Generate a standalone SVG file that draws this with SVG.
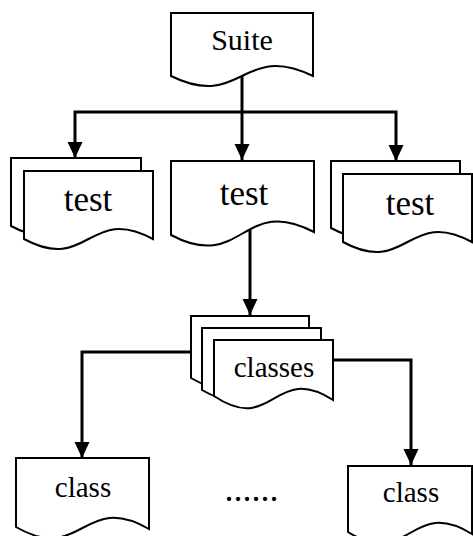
<svg xmlns="http://www.w3.org/2000/svg" width="473" height="536" viewBox="0 0 473 536">
<defs>
<style>
.doc{fill:#fff;stroke:#000;stroke-width:2;stroke-linejoin:miter}
.con{fill:none;stroke:#000;stroke-width:3;stroke-linejoin:miter}
text{font-family:"Liberation Serif","Times New Roman",Times,serif;fill:#000;text-anchor:middle}
</style>
<marker id="ah" markerUnits="userSpaceOnUse" markerWidth="16" markerHeight="16" refX="16" refY="7.5" orient="auto">
<path d="M0,0 L16,7.5 L0,15 z" fill="#000"/>
</marker>
</defs>
<rect width="473" height="536" fill="#fff"/>
<g id="connectors">
<path class="con" d="M242,76 V160" marker-end="url(#ah)"/>
<path class="con" d="M242,112 H75 V158" marker-end="url(#ah)"/>
<path class="con" d="M242,112 H396 V161" marker-end="url(#ah)"/>
<path class="con" d="M250,229 V315" marker-end="url(#ah)"/>
<path class="con" d="M191,352 H82 V458" marker-end="url(#ah)"/>
<path class="con" d="M333,360 H411 V465" marker-end="url(#ah)"/>
</g>
<g id="suite">
<path class="doc" d="M171,13 H313 V76 C242,41 242,111 171,76 Z"/>
<text x="242" y="50" font-size="30">Suite</text>
</g>
<g id="test-left">
<path class="doc" d="M11,158 H141 V226 C76,191 76,261 11,226 Z"/>
<path class="doc" d="M24,171 H153 V239 C88.5,204 88.5,274 24,239 Z"/>
<text x="88" y="211" font-size="35">test</text>
</g>
<g id="test-middle">
<path class="doc" d="M171,161 H314 V232 C242.5,194 242.5,273 171,235 Z"/>
<text x="244" y="205" font-size="35">test</text>
</g>
<g id="test-right">
<path class="doc" d="M331,161 H460 V228 C395.5,193 395.5,263 331,228 Z"/>
<path class="doc" d="M343,174 H472 V242 C407.5,207 407.5,277 343,242 Z"/>
<text x="410" y="215" font-size="35">test</text>
</g>
<g id="classes">
<path class="doc" d="M191,316 H309 V378 C250,343 250,413 191,378 Z"/>
<path class="doc" d="M202,328 H321 V390 C261.5,355 261.5,425 202,390 Z"/>
<path class="doc" d="M214,340 H333 V400 C273.5,362 273.5,436 214,396 Z"/>
<text x="274" y="377" font-size="29">classes</text>
</g>
<g id="class-left">
<path class="doc" d="M16,458 H149 V529 C82.5,491 82.5,565 16,527 Z"/>
<text x="83" y="497" font-size="29">class</text>
</g>
<g id="ellipsis">
<text x="251.5" y="501" font-size="36">......</text>
</g>
<g id="class-right">
<path class="doc" d="M348,466 H472 V534 C410,496 410,570 348,532 Z"/>
<text x="411" y="502" font-size="29">class</text>
</g>
</svg>
